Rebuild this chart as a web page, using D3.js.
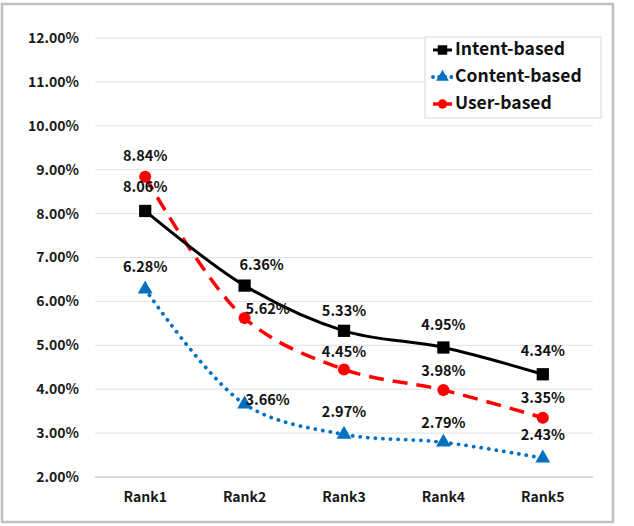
<!DOCTYPE html>
<html><head><meta charset="utf-8">
<script src="https://cdn.jsdelivr.net/npm/d3@7"></script>
<style>body{margin:0;background:#fff}svg{display:block}text{font-family:"Noto Sans CJK KR","Noto Sans",sans-serif}</style>
</head><body>
<svg id="c" width="634" height="526"></svg>
<script>
const categories = ["Rank1","Rank2","Rank3","Rank4","Rank5"];
const intentBased = [8.06, 6.36, 5.33, 4.95, 4.34];
const contentBased = [6.28, 3.66, 2.97, 2.79, 2.43];
const userBased = [8.84, 5.62, 4.45, 3.98, 3.35];
const yTicks = [2,3,4,5,6,7,8,9,10,11,12];

const svg = d3.select("#c");
svg.append("rect").attr("x",2).attr("y",4).attr("width",611).attr("height",518)
  .attr("fill","#fff").attr("stroke","#c0c0c0").attr("stroke-width",2.5);

const x = d3.scaleBand().domain(categories).range([95.5, 592.5]);
const y = d3.scaleLinear().domain([2,12]).range([477, 38]);
const cx = d => x(d) + x.bandwidth()/2;

// grid
svg.append("g").selectAll("line").data(yTicks).join("line")
  .attr("x1",95).attr("x2",593).attr("y1",d=>y(d)).attr("y2",d=>y(d))
  .attr("stroke",d=>d===2?"#b0b0b0":"#e0e0e0").attr("stroke-width",1);

const yAxis = svg.append("g").attr("transform","translate(95,0)")
  .call(d3.axisLeft(y).tickValues(yTicks).tickFormat(d=>d3.format(".2f")(d)+"%").tickSize(0).tickPadding(16));
yAxis.select(".domain").remove();
yAxis.selectAll("text").attr("font-size",14).attr("font-weight",600).attr("fill","#1a1a1a");

const xAxis = svg.append("g").attr("transform","translate(0,477)")
  .call(d3.axisBottom(x).tickSize(0).tickPadding(15));
xAxis.select(".domain").remove();
xAxis.selectAll("text").attr("font-size",14).attr("font-weight",600).attr("fill","#1a1a1a");

const series = [
  {name:"Intent-based", vals:intentBased, color:"#000000", dash:null, w:3, sym:"square",
   lab:[[0,-23],[17,-20],[0,-19],[0,-21],[0,-22]]},
  {name:"Content-based", vals:contentBased, color:"#0070C0", dash:"0.1,7.5", w:3.8, sym:"triangle",
   lab:[[0,-21],[23,-3],[0,-21],[0,-18],[0,-22]]},
  {name:"User-based", vals:userBased, color:"#FF0000", dash:"15,9", w:3.5, sym:"circle",
   lab:[[0,-20],[23,-8],[0,-16],[0,-18],[0,-19]]}
];

const line = d3.line().x((d,i)=>cx(categories[i])).y(d=>y(d)).curve(d3.curveCatmullRom.alpha(0.5));
const symGen = {square:d3.symbol(d3.symbolSquare,150), triangle:d3.symbol(d3.symbolTriangle,95), circle:d3.symbol(d3.symbolCircle,115)};

[series[1], series[2], series[0]].forEach(s=>{
  svg.append("path").attr("d",line(s.vals)).attr("fill","none").attr("stroke",s.color)
    .attr("stroke-width",s.w).attr("stroke-dasharray",s.dash).attr("stroke-linecap",s.sym==="triangle"?"round":"butt");
  svg.append("g").selectAll("path").data(s.vals).join("path")
    .attr("transform",(d,i)=>`translate(${cx(categories[i])},${y(d)})`)
    .attr("d",symGen[s.sym]()).attr("fill",s.color);
});
series.forEach(s=>{
  svg.append("g").selectAll("text").data(s.vals).join("text")
    .attr("x",(d,i)=>cx(categories[i])+s.lab[i][0]).attr("y",(d,i)=>y(d)+s.lab[i][1])
    .attr("text-anchor","middle").attr("dominant-baseline","middle")
    .attr("font-size",14.5).attr("font-weight",600).attr("fill","#111")
    .text(d=>d3.format(".2f")(d)+"%");
});

// legend
const lg = svg.append("g");
lg.append("rect").attr("x",425).attr("y",37).attr("width",176).attr("height",81)
  .attr("fill","#fff").attr("stroke","#d9d9d9");
series.forEach((s,i)=>{
  const yy = 50 + i*27;
  lg.append("line").attr("x1",433).attr("x2",452).attr("y1",yy).attr("y2",yy)
    .attr("stroke",s.color).attr("stroke-width",s.w).attr("stroke-linecap",s.sym==="triangle"?"round":"butt")
    .attr("stroke-dasharray",s.sym==="triangle"?"0.1,6":null);
  lg.append("path").attr("transform",`translate(442.5,${yy})`).attr("d",symGen[s.sym].size(s.sym==="square"?90:70)()).attr("fill",s.color);
  lg.append("text").attr("x",455).attr("y",yy).attr("dominant-baseline","middle")
    .attr("font-size",17.5).attr("font-weight",600).attr("fill","#111").text(s.name);
});
</script>
</body></html>
